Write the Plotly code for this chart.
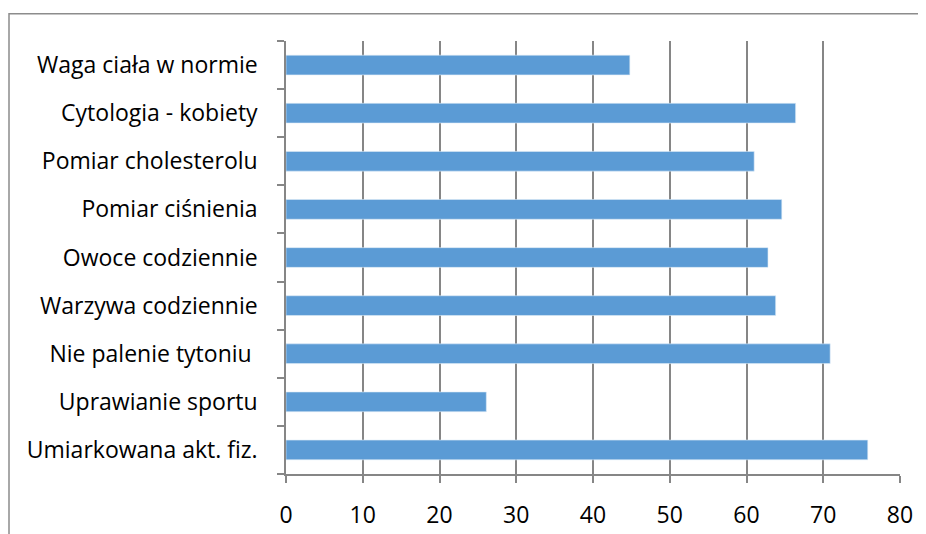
import plotly.graph_objects as go

categories = [
    "Umiarkowana akt. fiz.",
    "Uprawianie sportu",
    "Nie palenie tytoniu ",
    "Warzywa codziennie",
    "Owoce codziennie",
    "Pomiar ciśnienia",
    "Pomiar cholesterolu",
    "Cytologia - kobiety",
    "Waga ciała w normie",
]
values = [75.8, 26.1, 70.9, 63.8, 62.8, 64.6, 61.0, 66.4, 44.8]
x_ticks = [0, 10, 20, 30, 40, 50, 60, 70, 80]

FONT = "Open Sans"
GRAY = "#868686"

fig = go.Figure(
    go.Bar(
        y=categories,
        x=values,
        orientation="h",
        marker=dict(color="#5B9BD5", line=dict(color="#DEEBF7", width=0.6)),
        width=0.41,
    )
)

fig.update_layout(
    width=926,
    height=534,
    margin=dict(l=278, r=34, t=33, b=68),
    paper_bgcolor="white",
    plot_bgcolor="white",
    showlegend=False,
    font=dict(family=FONT, size=23, color="black"),
    xaxis=dict(
        range=[0, 80],
        tickvals=x_ticks,
        ticktext=[str(v) for v in x_ticks],
        showgrid=True,
        gridcolor=GRAY,
        gridwidth=1.5,
        zeroline=False,
        showline=True,
        linecolor=GRAY,
        linewidth=1.5,
        ticks="outside",
        ticklen=7,
        tickcolor=GRAY,
        tickwidth=1.5,
        tickfont=dict(family=FONT, size=23),
        ticklabelstandoff=13,
    ),
    yaxis=dict(
        type="category",
        categoryorder="array",
        categoryarray=categories,
        range=[-0.5, len(categories) - 0.5],
        showgrid=False,
        showline=True,
        linecolor=GRAY,
        linewidth=1.5,
        ticks="outside",
        tickson="boundaries",
        ticklen=7,
        tickcolor=GRAY,
        tickwidth=1.5,
        tickfont=dict(family=FONT, size=23),
        ticklabelstandoff=22,
    ),
    shapes=[
        dict(
            type="rect",
            xref="paper",
            yref="paper",
            x0=(9 - 286) / 614,
            x1=1.3,
            y0=-0.4,
            y1=(474 - 13.7) / 433,
            line=dict(color="#8C8C8C", width=1.5),
            fillcolor="rgba(0,0,0,0)",
            layer="below",
        )
    ],
)

fig.write_html("out.html")
